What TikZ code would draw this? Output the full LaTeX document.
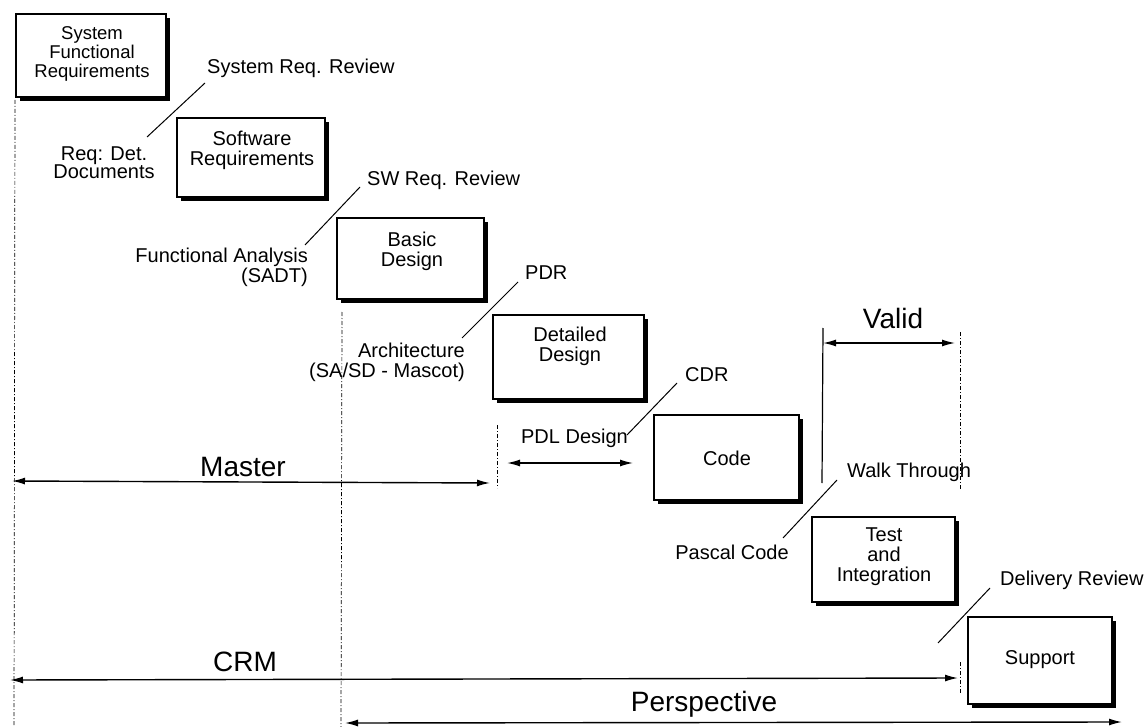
\documentclass[tikz,border=0pt]{standalone}
\usepackage{fontspec}
\setmainfont{Liberation Sans}
\usetikzlibrary{shadows,arrows.meta}
\begin{document}
\begin{tikzpicture}[x=1pt,y=-1pt,
  phase/.style={draw=black, line width=1.2pt, fill=white,
    drop shadow={shadow xshift=4pt,shadow yshift=-4pt,fill=black,opacity=1}, inner sep=0pt},
  boxtext/.style={align=center, inner sep=0pt, font=\fontsize{20}{20}\selectfont},
  lbl/.style={inner sep=0pt, font=\fontsize{20}{20}\selectfont},
  big/.style={inner sep=0pt, font=\fontsize{28}{28}\selectfont},
  leader/.style={line width=1pt},
  span/.style={line width=1.4pt, {Latex[length=13pt,width=7pt]}-{Latex[length=13pt,width=7pt]}},
  guide/.style={line width=0.7pt, dash pattern=on 4pt off 2pt on 1pt off 2pt},
]
\useasboundingbox (0,0) rectangle (1148,727);

% phase boxes
\node[phase, minimum width=150pt, minimum height=83pt] (sfr) at (91,55.5) {};
\node[boxtext, font=\fontsize{18.5}{19}\selectfont] (sfrt) at (92,54) {System\\Functional\\Requirements};
\node[phase, minimum width=148pt, minimum height=79pt] (swr) at (251,157.5) {};
\node[boxtext] (swrt) at (252,150) {Software\\Requirements};
\node[phase, minimum width=147pt, minimum height=81pt] (bd) at (410.5,258.5) {};
\node[boxtext] (bdt) at (412,251) {Basic\\Design};
\node[phase, minimum width=151pt, minimum height=84pt] (dd) at (568.5,357) {};
\node[boxtext] (ddt) at (570,346) {Detailed\\Design};
\node[phase, minimum width=145pt, minimum height=85pt] (code) at (726.5,457.5) {};
\node[boxtext] (codet) at (727,458) {Code};
\node[phase, minimum width=143pt, minimum height=85pt] (ti) at (883.5,559.5) {};
\node[boxtext] (tit) at (884,557) {Test\\and\\Integration};
\node[phase, minimum width=144pt, minimum height=87pt] (sup) at (1040,660.5) {};
\node[boxtext] (supt) at (1040,660) {Support};

% review / method labels
\node[lbl, anchor=west] (srr) at (207,68) {System Req. Review};
\node[lbl, align=center, font=\fontsize{20}{18}\selectfont] (rdd) at (104,163) {Req: Det.\\Documents};
\node[lbl, anchor=west] (swrr) at (367,180) {SW Req. Review};
\node[lbl, anchor=east, align=right] (fa) at (308,267) {Functional Analysis\\(SADT)};
\node[lbl, anchor=west] (pdr) at (525,273) {PDR};
\node[lbl, anchor=east, align=right] (arch) at (465,362) {Architecture\\(SA/SD - Mascot)};
\node[lbl, anchor=west] (cdr) at (685,375) {CDR};
\node[lbl] (pdl) at (574.5,438) {PDL Design};
\node[lbl, anchor=west] (walk) at (847,472) {Walk Through};
\node[lbl] (pascal) at (732,552) {Pascal Code};
\node[lbl, anchor=west] (deliv) at (1000,580) {Delivery Review};

% big span labels
\node[big] (master) at (243,467) {Master};
\node[big] (crm) at (245,662) {CRM};
\node[big] (persp) at (704,704) {Perspective};
\node[big] (valid) at (893,318) {Valid};

% leader lines
\coordinate (l1a) at (147,137); \coordinate (l1b) at (205,83);
\coordinate (l2a) at (305,245); \coordinate (l2b) at (360,187);
\coordinate (l3a) at (462,338); \coordinate (l3b) at (518,282);
\coordinate (l4a) at (627,435); \coordinate (l4b) at (677,383);
\coordinate (l5a) at (783,538); \coordinate (l5b) at (837,480);
\coordinate (l6a) at (938,643); \coordinate (l6b) at (990,588);
\draw[leader] (l1a) -- (l1b);
\draw[leader] (l2a) -- (l2b);
\draw[leader] (l3a) -- (l3b);
\draw[leader] (l4a) -- (l4b);
\draw[leader] (l5a) -- (l5b);
\draw[leader] (l6a) -- (l6b);

% guide lines
\coordinate (g1a) at (15,100); \coordinate (g1b) at (14,727);
\coordinate (g2a) at (342,312); \coordinate (g2b) at (341,727);
\coordinate (g3a) at (497,425); \coordinate (g3b) at (497,488);
\coordinate (g4a) at (960,332); \coordinate (g4b) at (960,490);
\coordinate (g5a) at (960,662); \coordinate (g5b) at (960,694);
\coordinate (v1a) at (823,328); \coordinate (v1b) at (822,483);
\draw[guide] (g1a) -- (g1b);
\draw[guide] (g2a) -- (g2b);
\draw[guide] (g3a) -- (g3b);
\draw[guide] (g4a) -- (g4b);
\draw[guide] (g5a) -- (g5b);
\draw[line width=1.2pt] (v1a) -- (v1b);

% span arrows
\coordinate (mL) at (12,481); \coordinate (mR) at (490,483);
\coordinate (cL) at (10,680); \coordinate (cR) at (958,678);
\coordinate (pL) at (345,723); \coordinate (pR) at (1122,722);
\coordinate (vL) at (823,343); \coordinate (vR) at (955,343);
\coordinate (dL) at (507,463); \coordinate (dR) at (633,463);
\draw[span] (mL) -- (mR);
\draw[span] (cL) -- (cR);
\draw[span] (pL) -- (pR);
\draw[span] (vL) -- (vR);
\draw[span] (dL) -- (dR);
\end{tikzpicture}
\end{document}
